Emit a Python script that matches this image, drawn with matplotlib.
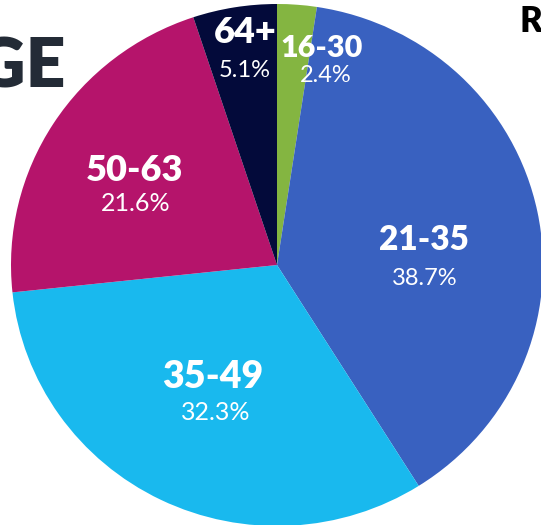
import matplotlib.pyplot as plt

# tranches d'age et parts (%)
ages = ["16-30", "21-35", "35-49", "50-63", "64+"]
parts = [2.4, 38.7, 32.3, 21.6, 5.1]
couleurs = ["#84b541", "#3961c0", "#19b9ee", "#b5146b", "#030a3a"]

# position des etiquettes (px dans l'image de reference) et tailles
pos_nom = [(322, 48), (424, 240), (213, 377), (135, 171), (245, 33)]
pos_pct = [(326, 76), (425, 279), (216, 412), (136, 204), (245, 71)]
taille_nom = [22, 24, 27, 26, 26]
taille_pct = [17, 17, 18, 18, 17]

W, H = 541, 525
cx, cy = 277, 265   # centre du camembert en px
rx, ry = 266, 261   # rayon en px

plt.rcParams['font.family'] = ['Lato', 'DejaVu Sans']

fig = plt.figure(figsize=(W / 100, H / 100), dpi=100)
ax = fig.add_axes([0, 0, 1, 1])

ax.pie(parts, colors=couleurs, startangle=90, counterclock=False,
       radius=1, center=(0, 0), normalize=True,
       wedgeprops=dict(linewidth=0))

ax.set_aspect('auto')
ax.set_xlim(-cx / rx, (W - cx) / rx)
ax.set_ylim(-(H - cy) / ry, cy / ry)
ax.axis('off')


def px(p):
    return (p[0] - cx) / rx, (cy - p[1]) / ry


for i, age in enumerate(ages):
    x, y = px(pos_nom[i])
    ax.text(x, y, age, color="white", fontsize=taille_nom[i], fontweight="heavy",
            ha="center", va="center")
    x, y = px(pos_pct[i])
    ax.text(x, y, f"{parts[i]}%", color="white", fontsize=taille_pct[i],
            fontweight="normal", ha="center", va="center")

# titre coupe a gauche et texte coupe a droite
fig.text(66 / W, 1 - 87 / H, "AGE", color="#232b36", fontsize=50,
         fontweight="heavy", ha="right", va="baseline")
fig.text(519 / W, 1 - 32 / H, "R", color="#000000", fontsize=25,
         fontweight="heavy", ha="left", va="baseline")

fig.savefig("out.png", dpi=100)
